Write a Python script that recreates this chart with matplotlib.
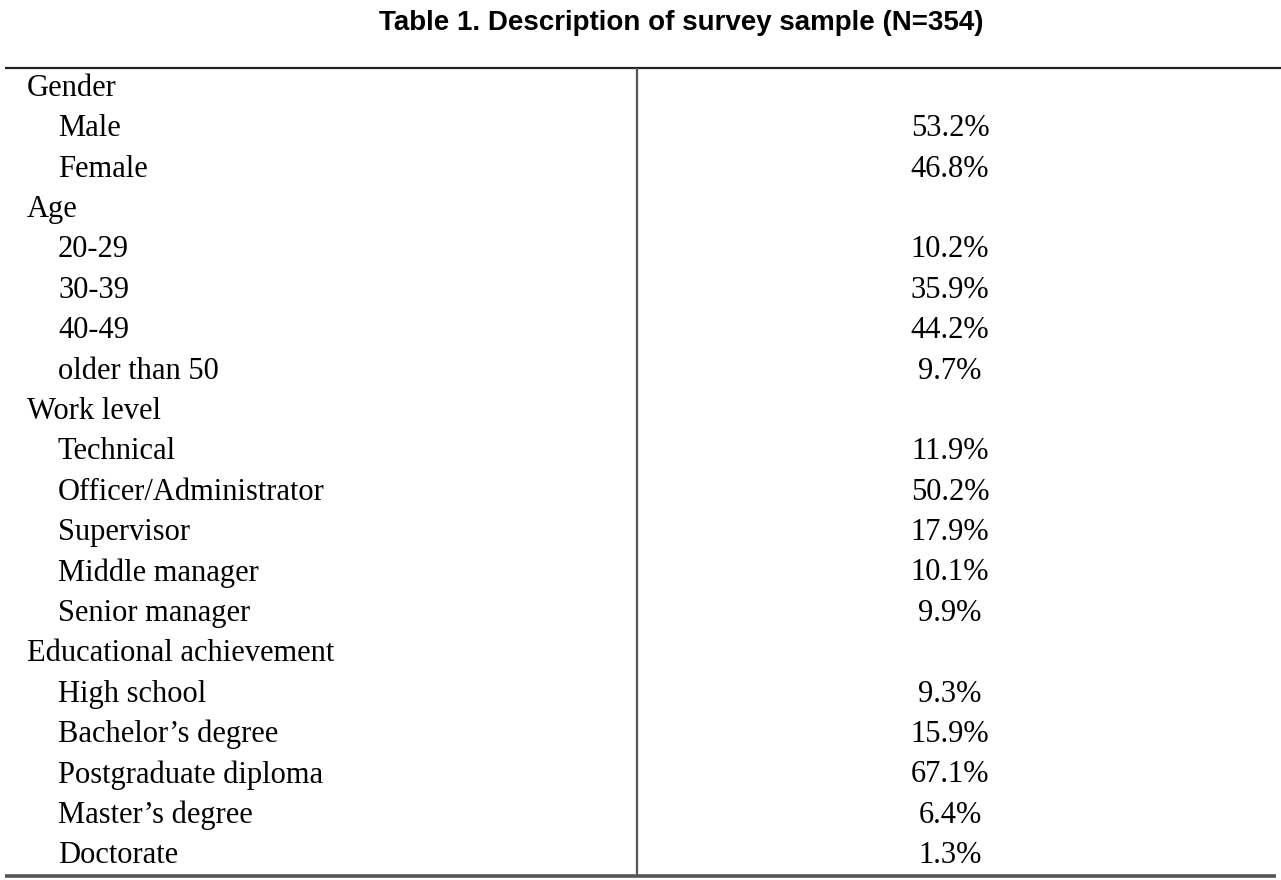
import matplotlib
matplotlib.use("Agg")
import matplotlib.pyplot as plt

title = "Table 1. Description of survey sample (N=354)"
groups = ["Gender", "Age", "Work level", "Educational achievement"]
gender_items = ["Male", "Female"]
gender_vals = ["53.2%", "46.8%"]
age_items = ["20-29", "30-39", "40-49", "older than 50"]
age_vals = ["10.2%", "35.9%", "44.2%", "9.7%"]
work_items = ["Technical", "Officer/Administrator", "Supervisor", "Middle manager", "Senior manager"]
work_vals = ["11.9%", "50.2%", "17.9%", "10.1%", "9.9%"]
edu_items = ["High school", "Bachelor\u2019s degree", "Postgraduate diploma", "Master\u2019s degree", "Doctorate"]
edu_vals = ["9.3%", "15.9%", "67.1%", "6.4%", "1.3%"]

W, H = 1281, 880
fig = plt.figure(figsize=(W / 100, H / 100), dpi=100)
ax = fig.add_axes([0, 0, 1, 1])
ax.set_xlim(0, W)
ax.set_ylim(H, 0)
ax.axis("off")

ax.text(681, 23, title, ha="center", va="center", fontsize=20,
        fontweight="bold", family="Liberation Sans")

rows = []
for g, items, vals in zip(groups,
                          [gender_items, age_items, work_items, edu_items],
                          [gender_vals, age_vals, work_vals, edu_vals]):
    rows.append((g, None, True))
    for it, v in zip(items, vals):
        rows.append((it, v, False))

y0 = 88.5
dy = 40.37
for i, (lab, val, is_head) in enumerate(rows):
    y = y0 + i * dy
    x = 27 if is_head else 58
    ax.text(x, y, lab, ha="left", va="center", fontsize=22,
            family="Liberation Serif")
    if val is not None:
        ax.text(950, y, val, ha="center", va="center", fontsize=22,
                family="Liberation Serif")

ax.plot([5, W], [68, 68], color="#222222", lw=1.6, solid_capstyle="butt")
ax.plot([5, 1276], [876, 876], color="#555555", lw=2.6, solid_capstyle="butt")
ax.plot([637, 637], [68, 876], color="#555555", lw=1.6, solid_capstyle="butt")

fig.savefig("out.png", dpi=100)
